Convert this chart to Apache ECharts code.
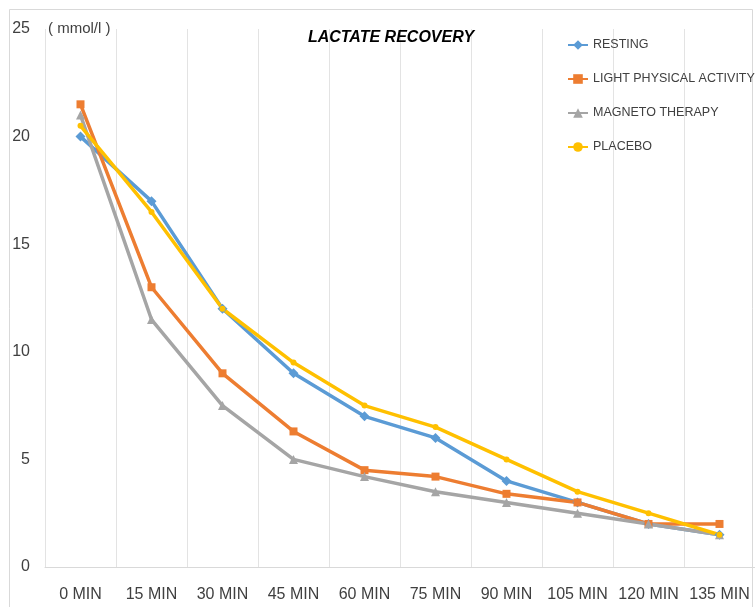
<!DOCTYPE html>
<html>
<head>
<meta charset="utf-8">
<style>
  html, body { margin: 0; padding: 0; background: #fff; }
  #chart { width: 755px; height: 607px; }
</style>
<script src="https://cdn.jsdelivr.net/npm/echarts@6/dist/echarts.min.js"></script>
</head>
<body>
<div id="chart"></div>
<script>
// Recovery time points
const categories = ['0 MIN', '15 MIN', '30 MIN', '45 MIN', '60 MIN', '75 MIN', '90 MIN', '105 MIN', '120 MIN', '135 MIN'];

// Blood lactate (mmol/l) per group
const resting  = [20, 17, 12, 9, 7, 6, 4, 3, 2, 1.5];
const lightActivity = [21.5, 13, 9, 6.3, 4.5, 4.2, 3.4, 3, 2, 2];
const magnetoTherapy = [21, 11.5, 7.5, 5, 4.2, 3.5, 3, 2.5, 2, 1.5];
const placebo  = [20.5, 16.5, 12, 9.5, 7.5, 6.5, 5, 3.5, 2.5, 1.5];

const yTicks = [0, 5, 10, 15, 20, 25];

const FONT = '"Liberation Sans Narrow", "Liberation Sans", Arial, sans-serif';

const chart = echarts.init(document.getElementById('chart'), null, { renderer: 'canvas' });

function lineSeries(name, data, color, symbol, size) {
  return {
    name: name,
    type: 'line',
    data: data,
    symbol: symbol,
    symbolSize: size,
    lineStyle: { color: color, width: 3.5 },
    itemStyle: { color: color },
    emphasis: { disabled: true }
  };
}

chart.setOption({
  animation: false,
  backgroundColor: '#ffffff',
  title: {
    text: 'LACTATE RECOVERY',
    left: 386,
    top: 25,
    textAlign: 'center',
    textStyle: {
      fontFamily: FONT,
      fontSize: 16,
      fontWeight: 'bold',
      fontStyle: 'italic',
      color: '#000000'
    }
  },
  legend: {
    orient: 'vertical',
    left: 562,
    top: 33,
    itemGap: 20,
    itemWidth: 20,
    itemHeight: 12,
    textStyle: { fontFamily: FONT, fontSize: 12.5, color: '#404040', lineHeight: 14 },
    data: ['RESTING', 'LIGHT PHYSICAL ACTIVITY', 'MAGNETO THERAPY', 'PLACEBO']
  },
  grid: { left: 45, top: 29, width: 713, bottom: 40 },
  xAxis: {
    type: 'category',
    data: categories,
    boundaryGap: true,
    axisLine: { show: true, lineStyle: { color: '#d9d9d9', width: 1 } },
    axisTick: { show: false },
    axisLabel: { fontFamily: FONT, fontSize: 16, color: '#404040', margin: 20, interval: 0 },
    splitLine: { show: true, interval: 0, lineStyle: { color: '#e3e3e3', width: 1 } }
  },
  yAxis: {
    type: 'value',
    min: yTicks[0],
    max: yTicks[yTicks.length - 1],
    interval: yTicks[1] - yTicks[0],
    axisLine: { show: false },
    axisTick: { show: false },
    splitLine: { show: false },
    axisLabel: { fontFamily: FONT, fontSize: 16, color: '#404040', margin: 15 }
  },
  graphic: [
    {
      type: 'rect',
      shape: { x: 9.5, y: 9.5, width: 743, height: 700 },
      style: { fill: 'none', stroke: '#d9d9d9', lineWidth: 1 },
      silent: true,
      z: -1
    },
    {
      type: 'text',
      left: 48,
      top: 21,
      style: { text: '( mmol/l )', fontFamily: FONT, fontSize: 15, fill: '#404040' }
    }
  ],
  series: [
    lineSeries('RESTING', resting, '#5B9BD5', 'diamond', 10),
    lineSeries('LIGHT PHYSICAL ACTIVITY', lightActivity, '#ED7D31', 'rect', 8),
    lineSeries('MAGNETO THERAPY', magnetoTherapy, '#A5A5A5', 'triangle', 9),
    lineSeries('PLACEBO', placebo, '#FFC000', 'circle', 6)
  ]
});
</script>
</body>
</html>
